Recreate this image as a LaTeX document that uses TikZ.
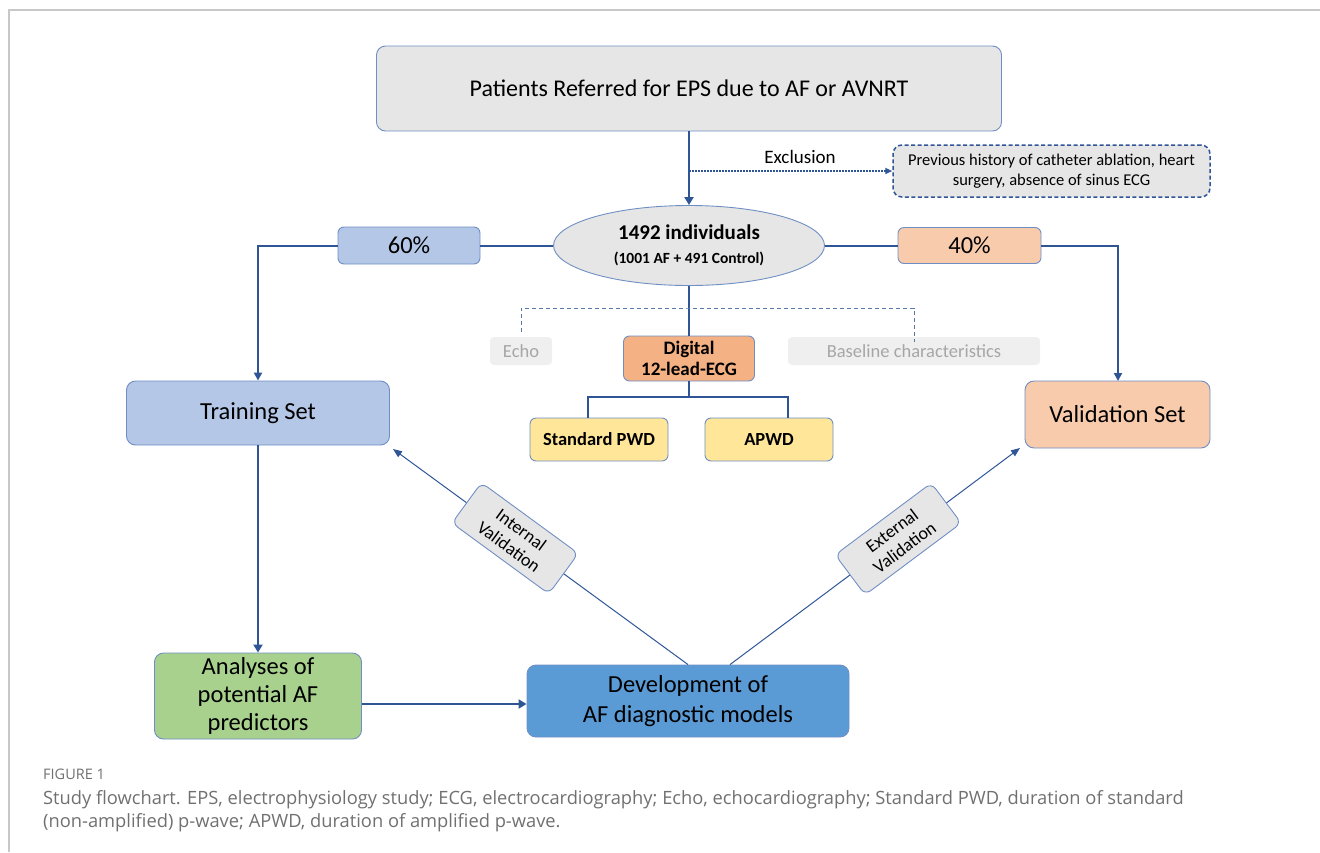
\documentclass[tikz,border=0pt]{standalone}
\usepackage{fontspec}
\setmainfont{Carlito}
\newfontfamily\capfont{Open Sans}
\usetikzlibrary{arrows.meta,shapes.geometric}
\definecolor{lblue}{HTML}{2F5597}
\definecolor{bcol}{HTML}{6F8FC4}
\definecolor{gfill}{HTML}{E7E6E6}
\definecolor{bfill}{HTML}{B4C7E7}
\definecolor{ofill}{HTML}{F8CBAD}
\definecolor{dfill}{HTML}{F4B183}
\definecolor{yfill}{HTML}{FFE699}
\definecolor{grfill}{HTML}{A9D18E}
\definecolor{devfill}{HTML}{5B9BD5}
\definecolor{lgfill}{HTML}{EFEFEF}
\definecolor{gtext}{HTML}{A6A6A6}
\definecolor{captext}{HTML}{707070}
\definecolor{framec}{HTML}{C8C8C8}
\newcommand{\fs}[1]{\fontsize{#1}{\fpeval{1.2*#1}}\selectfont}
\newcommand{\fsl}[2]{\fontsize{#1}{#2}\selectfont}
\tikzset{
 bx/.style={draw=bcol, line width=0.9pt, rounded corners=9pt, align=center, inner sep=0pt, text=black},
 thk/.style={draw=lblue, line width=2.6pt},
 thkarr/.style={thk, -{Triangle[length=8pt,width=9pt]}},
 thn/.style={draw=lblue, line width=1pt},
 thnarr/.style={thn, -{Triangle[length=9pt,width=7pt]}},
 gbx/.style={fill=lgfill, rounded corners=4pt, align=center, inner sep=0pt, text=gtext},
 vbx/.style={bx, fill=gfill, minimum width=120pt, minimum height=50pt, rounded corners=7pt, font=\fsl{18}{21}, sloped},
}
\begin{document}
\begin{tikzpicture}[x=1pt,y=-1pt]
\useasboundingbox (0,0) rectangle (1320,852);
% frame
\draw[framec, line width=1.5pt] (9,852) -- (9,10) -- (1320,10);

% nodes
\node[bx, fill=gfill, minimum width=625pt, minimum height=85pt, font=\fs{24}] (top) at (689,88.5) {Patients Referred for EPS due to AF or AVNRT};
\node[bx, fill=gfill, draw=lblue, line width=1.5pt, dash pattern=on 4pt off 2.5pt, minimum width=317pt, minimum height=52pt, font=\fsl{16.5}{20}] (excl) at (1051.5,171) {Previous history of catheter ablation, heart\\surgery, absence of sinus ECG};
\node[ellipse, draw=bcol, line width=0.9pt, fill=gfill, minimum width=271pt, minimum height=80pt, inner sep=0pt, align=center, font=\fsl{21}{24}\bfseries] (ell) at (689,245.5) {1492 individuals\\{\fsl{15.5}{24}\bfseries (1001 AF + 491 Control)}};
\node[bx, fill=bfill, rounded corners=6pt, minimum width=142pt, minimum height=37pt, font=\fs{24.5}] (p60) at (409,245.5) {60\%};
\node[bx, fill=ofill, rounded corners=6pt, minimum width=143pt, minimum height=36pt, font=\fs{24.5}] (p40) at (969.5,245.5) {40\%};
\node[bx, fill=bfill, minimum width=263pt, minimum height=64pt, font=\fs{24.5}] (train) at (258,413) {Training Set};
\node[bx, fill=ofill, minimum width=185pt, minimum height=67pt, font=\fs{24.5}] (valid) at (1117.5,414.5) {Validation Set};
\node[gbx, minimum width=62pt, minimum height=28pt, font=\fs{18.5}] (echo) at (521,351) {Echo};
\node[gbx, minimum width=252pt, minimum height=28pt, font=\fs{18.5}] (base) at (914,351) {Baseline characteristics};
\node[bx, fill=dfill, rounded corners=6pt, minimum width=131pt, minimum height=45pt, font=\fsl{19}{21}\bfseries] (dig) at (689,358.5) {Digital\\12-lead-ECG};
\node[bx, fill=yfill, rounded corners=6pt, minimum width=138pt, minimum height=43pt, font=\fs{18.5}\bfseries] (spwd) at (599,439.5) {Standard PWD};
\node[bx, fill=yfill, rounded corners=6pt, minimum width=128pt, minimum height=43pt, font=\fs{18.5}\bfseries] (apwd) at (769,439.5) {APWD};
\node[bx, fill=grfill, minimum width=207pt, minimum height=86pt, font=\fsl{24.5}{28}] (anal) at (258,696) {Analyses of\\potential AF\\predictors};
\node[bx, fill=devfill, minimum width=322pt, minimum height=72pt, font=\fsl{24.5}{30}] (dev) at (688,701) {Development of\\AF diagnostic models};

% connectors
\draw[thkarr] (top.south) -- (ell.north);
\coordinate (exs) at (689,171);
\draw[lblue, line width=1.8pt, dash pattern=on 1.5pt off 1.5pt, -{Triangle[length=7pt,width=6pt]}] (exs) -- (excl.west);
\node[font=\fs{19}, inner sep=0pt] (exlab) at (800,157) {Exclusion};

\draw[thk, line width=2pt] (ell.west) -- (p60.east);
\draw[thk, line width=2pt, -{Triangle[length=8pt,width=8pt]}] (p60.west) -| (train.north);
\draw[thk, line width=2pt] (ell.east) -- (p40.west);
\coordinate (vtop) at (1118,381);
\draw[thk, line width=2pt, -{Triangle[length=8pt,width=8pt]}] (p40.east) -| (vtop);

\draw[thk] (ell.south) -- (dig.north);
\coordinate (dtop) at (689,308);
\draw[lblue!80, line width=1pt, dash pattern=on 4pt off 3pt, shorten <=5pt] (echo.north) |- (dtop) -| ([yshift=-5pt]base.north);

\coordinate (dj) at (689,397);
\draw[thk] (dig.south) -- (dj);
\draw[thk] ([xshift=-11pt]spwd.north) |- (dj) -| ([xshift=19pt]apwd.north);

\draw[thkarr] (train.south) -- (anal.north);
\draw[thkarr] (anal.east |- 0,704) -- (dev.west |- 0,704);

\coordinate (itip) at (393,449);
\coordinate (etip) at (1020,448);
\draw[thnarr] (dev.north) -- node[vbx, pos=0.586] (intl) {Internal\\Validation} (itip);
\draw[thnarr] ([xshift=42pt]dev.north) -- node[vbx, pos=0.58] (extl) {External\\Validation} (etip);

% caption
\node[anchor=west, inner sep=0pt, text=captext, font=\capfont\fs{14.5}] (fig) at (43,774) {FIGURE 1};
\node[anchor=west, inner sep=0pt, text=captext, font=\capfont\fs{18.3}] (cap1) at (43,800) {Study flowchart. EPS, electrophysiology study; ECG, electrocardiography; Echo, echocardiography; Standard PWD, duration of standard};
\node[anchor=west, inner sep=0pt, text=captext, font=\capfont\fs{18.3}] (cap2) at (43,823) {(non-amplified) p-wave; APWD, duration of amplified p-wave.};
\end{tikzpicture}
\end{document}
